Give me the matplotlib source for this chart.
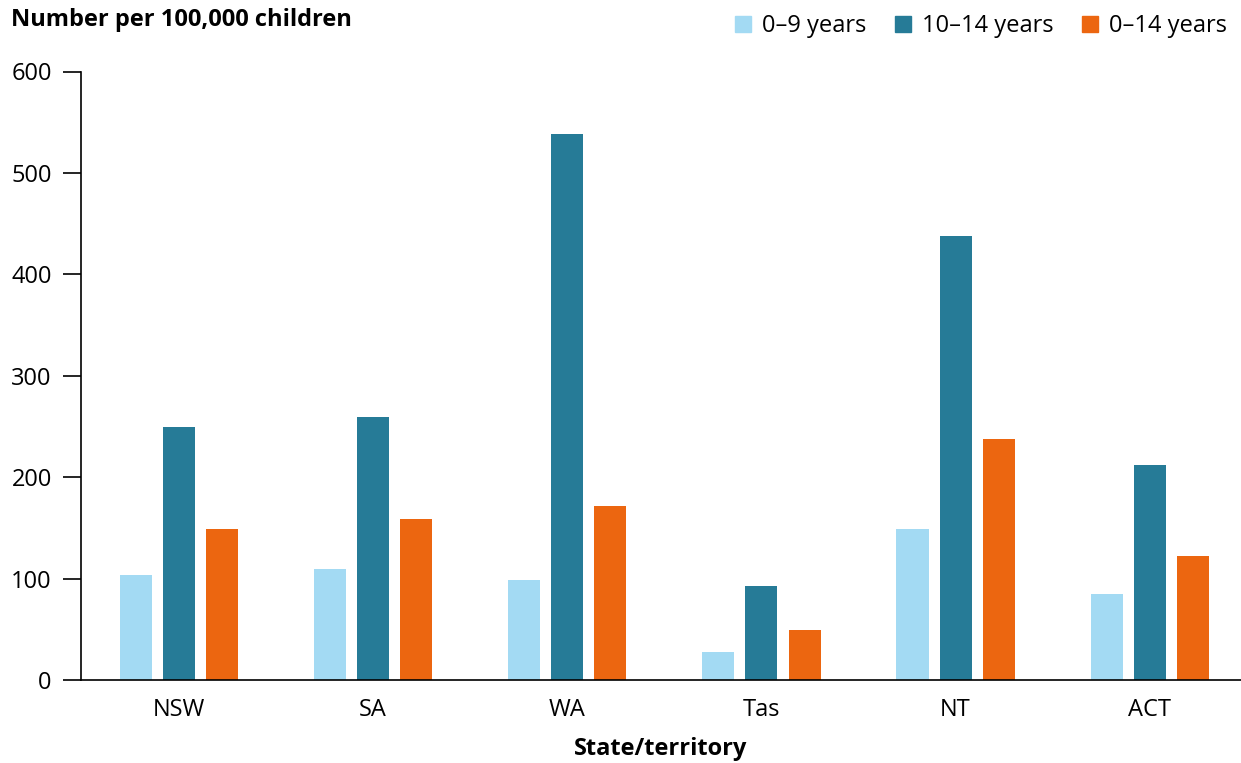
import numpy as np
import matplotlib
matplotlib.use('Agg')
import matplotlib.pyplot as plt
from matplotlib.patches import Patch

plt.rcParams['font.family'] = ['Open Sans', 'DejaVu Sans']

states = ['NSW', 'SA', 'WA', 'Tas', 'NT', 'ACT']
series_names = ['0–9 years', '10–14 years', '0–14 years']
age_0_9 = [104, 109, 99, 28, 149, 85]
age_10_14 = [249, 259, 538, 93, 438, 212]
age_0_14 = [149, 159, 172, 49, 238, 122]
y_ticks = [0, 100, 200, 300, 400, 500, 600]

colors = ['#A3DAF3', '#267B97', '#EC6610']

fig = plt.figure(figsize=(12.41, 7.63), dpi=100)
ax = fig.add_axes([81 / 1241, 83 / 763, 1 - 81 / 1241, (680.5 - 72) / 763])

x = np.arange(len(states))
width = 0.165
offset = 0.222
for i, (vals, color) in enumerate(zip([age_0_9, age_10_14, age_0_14], colors)):
    ax.bar(x + (i - 1) * offset, vals, width=width, color=color, label=series_names[i])

ax.set_xlim(-0.505, 5.47)
ax.set_ylim(0, 600)
ax.set_yticks(y_ticks)
ax.set_xticks(x)
ax.set_xticklabels(states)
ax.tick_params(axis='y', length=13, width=1.2, labelsize=17, pad=8)
ax.tick_params(axis='x', length=0, labelsize=17, pad=13)
for side in ['top', 'right']:
    ax.spines[side].set_visible(False)
ax.spines['left'].set_linewidth(1.2)
ax.spines['bottom'].set_linewidth(1.2)

ax.set_xlabel('State/territory', fontsize=17, fontweight='bold', labelpad=11)
fig.text(11 / 1241, 1 - 20 / 763, 'Number per 100,000 children', fontsize=17,
         fontweight='bold', va='center', ha='left')

handles = [Patch(color=c, label=n) for c, n in zip(colors, series_names)]
fig.legend(handles=handles, loc='upper right', bbox_to_anchor=(1.0, 1.0), ncol=3,
           frameon=False, fontsize=17, handlelength=0.7, handleheight=0.7,
           handletextpad=0.45, columnspacing=1.2, borderaxespad=0.2)

plt.savefig('out.png', dpi=100)
plt.close()
